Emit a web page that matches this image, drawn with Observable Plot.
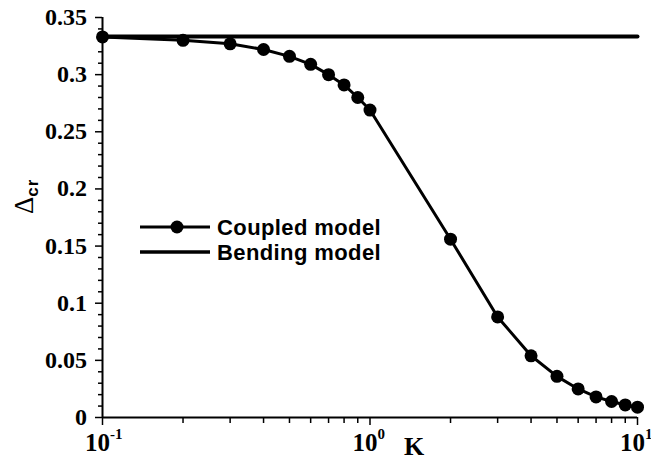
<!DOCTYPE html>
<html><head><meta charset="utf-8">
<script src="https://cdn.jsdelivr.net/npm/d3@7"></script>
<script src="https://cdn.jsdelivr.net/npm/@observablehq/plot@0.6"></script>
<style>
html,body{margin:0;padding:0;background:#fff;}
#chart{width:651px;height:461px;}
</style></head><body><div id="chart"></div>
<script>
// ---- data ----
const kValues = [0.1, 0.2, 0.3, 0.4, 0.5, 0.6, 0.7, 0.8, 0.9, 1, 2, 3, 4, 5, 6, 7, 8, 9, 10];
const coupledValues = [0.333, 0.330, 0.327, 0.322, 0.316, 0.309, 0.300, 0.291, 0.280, 0.269, 0.156, 0.088, 0.054, 0.036, 0.025, 0.018, 0.014, 0.011, 0.009];
const bendingK = [0.1, 10];
const bendingValues = [0.3333, 0.3333];
const yTickValues = [0, 0.05, 0.1, 0.15, 0.2, 0.25, 0.3, 0.35];
const yTickLabels = ["0", "0.05", "0.1", "0.15", "0.2", "0.25", "0.3", "0.35"];
const yMinorTicks = [0.01,0.02,0.03,0.04,0.06,0.07,0.08,0.09,0.11,0.12,0.13,0.14,0.16,0.17,0.18,0.19,0.21,0.22,0.23,0.24,0.26,0.27,0.28,0.29,0.31,0.32,0.33,0.34];
const xTickValues = [0.1, 1, 10];
const xTickBase = ["10", "10", "10"];
const xTickExponents = ["-1", "0", "1"];
const xMinorTicks = [0.2,0.3,0.4,0.5,0.6,0.7,0.8,0.9,2,3,4,5,6,7,8,9];
const seriesNames = ["Coupled model", "Bending model"];
const xLabel = "K";

const coupled = kValues.map((k, i) => ({k, v: coupledValues[i]}));
const bending = bendingK.map((k, i) => ({k, v: bendingValues[i]}));

const serif = "Liberation Serif";
const sans = "Liberation Sans";

const plot = Plot.plot({
  width: 651,
  height: 461,
  marginLeft: 102,
  marginRight: 14,
  marginTop: 17,
  marginBottom: 44,
  style: {background: "#fff", color: "#000", fontFamily: serif, overflow: "visible"},
  x: {type: "log", domain: [0.1, 10]},
  y: {domain: [0, 0.35]},
  marks: [
    Plot.axisY(yMinorTicks, {tickSize: 4, strokeWidth: 1.5, tickFormat: () => "", label: null}),
    Plot.axisY(yTickValues, {tickSize: 7, strokeWidth: 1.5, tickFormat: () => "", label: null}),
    Plot.axisX(xMinorTicks, {tickSize: 6, strokeWidth: 1.5, tickFormat: () => "", label: null}),
    Plot.axisX(xTickValues, {tickSize: 8, strokeWidth: 1.5, tickFormat: () => "", label: null}),
    Plot.ruleX([0.1], {strokeWidth: 2}),
    Plot.ruleY([0], {strokeWidth: 2}),
    Plot.line(bending, {x: "k", y: "v", stroke: "#000", strokeWidth: 4}),
    Plot.line(coupled, {x: "k", y: "v", stroke: "#000", strokeWidth: 3}),
    Plot.dot(coupled, {x: "k", y: "v", r: 6.5, fill: "#000", stroke: "none"})
  ]
});

const svg = d3.select(plot);
// remove any automatic axis text
svg.selectAll("g[aria-label$='tick label'] text").remove();

const xs = plot.scale("x"), ys = plot.scale("y");
const bottom = ys.apply(0);

// y tick labels
yTickValues.forEach((v, i) => {
  svg.append("text").attr("x", 87).attr("y", ys.apply(v) + 8)
    .attr("text-anchor", "end").attr("font-family", serif).attr("font-weight", "bold")
    .attr("font-size", 24).attr("fill", "#000").text(yTickLabels[i]);
});

// x tick labels with superscript exponents
xTickValues.forEach((v, i) => {
  const px = xs.apply(v);
  const t = svg.append("text").attr("x", px + 8).attr("y", bottom + 34)
    .attr("text-anchor", "end").attr("font-family", serif).attr("font-weight", "bold")
    .attr("font-size", 25).attr("fill", "#000").text(xTickBase[i]);
  svg.append("text").attr("x", px + 8).attr("y", bottom + 22)
    .attr("text-anchor", "start").attr("font-family", serif).attr("font-weight", "bold")
    .attr("font-size", 15).attr("fill", "#000").text(xTickExponents[i]);
});

// y-axis label: Delta with subscript "cr", rotated
const yl = svg.append("text")
  .attr("transform", "translate(33,214) rotate(-90)")
  .attr("text-anchor", "start")
  .attr("fill", "#000");
yl.append("tspan").attr("font-family", serif).attr("font-size", 27).text("Δ");
yl.append("tspan").attr("font-family", sans).attr("font-weight", "bold").attr("font-size", 17)
  .attr("dy", 5).attr("letter-spacing", 1).text("cr");

// x-axis label
svg.append("text").attr("x", 404).attr("y", 455).attr("text-anchor", "start").attr("font-family", serif)
  .attr("font-weight", "bold").attr("font-size", 26).attr("fill", "#000").text(xLabel);

// legend
const lg = svg.append("g");
const rows = [{y: 227, marker: true, w: 3}, {y: 252, marker: false, w: 3.5}];
rows.forEach((r, i) => {
  lg.append("line").attr("x1", 140).attr("x2", 210).attr("y1", r.y).attr("y2", r.y)
    .attr("stroke", "#000").attr("stroke-width", r.w);
  if (r.marker) lg.append("circle").attr("cx", 177).attr("cy", r.y).attr("r", 6.5).attr("fill", "#000");
  lg.append("text").attr("x", 217).attr("y", r.y + 8).attr("text-anchor", "start").attr("font-family", sans)
    .attr("font-weight", "bold").attr("font-size", 22).attr("letter-spacing", 0.4)
    .attr("fill", "#000").text(seriesNames[i]);
});

document.getElementById("chart").appendChild(plot);
</script></body></html>
